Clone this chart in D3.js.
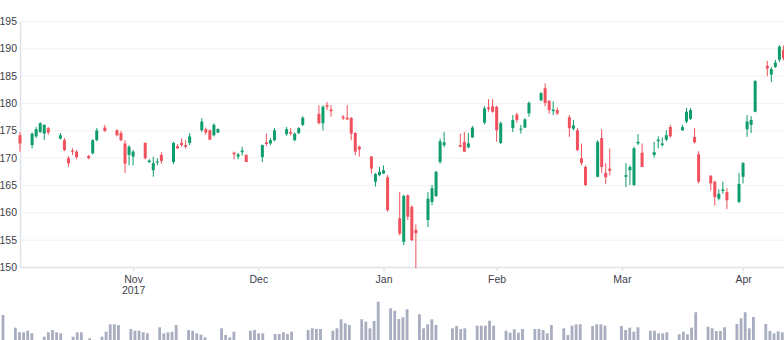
<!DOCTYPE html>
<meta charset="utf-8">

<style>

* {
	margin: 0;
	padding: 0;
}

body {
	background: #fff;
}

svg {
	display: block;
	font-family: "Liberation Sans", Arial, sans-serif;
}

.grid line {
	stroke: #f1f2f4;
}

.axis path,
.axis line {
	stroke: #dfe2e8;
	stroke-width: 1.5;
}

.axis text {
	fill: #3d404b;
	font-size: 10.5px;
}

.up {
	fill: #0f9d6b;
	stroke: #0f9d6b;
}

.down {
	fill: #f0515c;
	stroke: #f0515c;
}

.vol {
	fill: #a8adbf;
}

</style>

<body>

<script src="https://cdn.jsdelivr.net/npm/d3@7/dist/d3.min.js"></script>

<script>

// one row per trading day
var dates = [
	"2017-10-06",
	"2017-10-09", "2017-10-10", "2017-10-11", "2017-10-12", "2017-10-13",
	"2017-10-16", "2017-10-17", "2017-10-18", "2017-10-19", "2017-10-20",
	"2017-10-23", "2017-10-24", "2017-10-25", "2017-10-27",
	"2017-10-30", "2017-10-31", "2017-11-01", "2017-11-02", "2017-11-03",
	"2017-11-06", "2017-11-07", "2017-11-08", "2017-11-09", "2017-11-10",
	"2017-11-13", "2017-11-14", "2017-11-15", "2017-11-16", "2017-11-17",
	"2017-11-20", "2017-11-21", "2017-11-22", "2017-11-23", "2017-11-24",
	"2017-11-28", "2017-11-29", "2017-11-30", "2017-12-01",
	"2017-12-05", "2017-12-06", "2017-12-07", "2017-12-08",
	"2017-12-11", "2017-12-12", "2017-12-13", "2017-12-14", "2017-12-15",
	"2017-12-19", "2017-12-20", "2017-12-21", "2017-12-22",
	"2017-12-25", "2017-12-26", "2017-12-27", "2017-12-28", "2017-12-29",
	"2018-01-01", "2018-01-02", "2018-01-03", "2018-01-04", "2018-01-05",
	"2018-01-08", "2018-01-09", "2018-01-10", "2018-01-11", "2018-01-12",
	"2018-01-15", "2018-01-16", "2018-01-17", "2018-01-18", "2018-01-19",
	"2018-01-23", "2018-01-24", "2018-01-25", "2018-01-26",
	"2018-01-29", "2018-01-30", "2018-01-31", "2018-02-01", "2018-02-02",
	"2018-02-05", "2018-02-06", "2018-02-07", "2018-02-08", "2018-02-09",
	"2018-02-12", "2018-02-13", "2018-02-14", "2018-02-15", "2018-02-16",
	"2018-02-19", "2018-02-20", "2018-02-21", "2018-02-22", "2018-02-23",
	"2018-02-26", "2018-02-27", "2018-02-28", "2018-03-01",
	"2018-03-05", "2018-03-06", "2018-03-07", "2018-03-08", "2018-03-09",
	"2018-03-12", "2018-03-13", "2018-03-14", "2018-03-15", "2018-03-16",
	"2018-03-19", "2018-03-20", "2018-03-21", "2018-03-22", "2018-03-23",
	"2018-03-26", "2018-03-27", "2018-03-28", "2018-03-29", "2018-03-30",
	"2018-04-02", "2018-04-03", "2018-04-04", "2018-04-05", "2018-04-06",
	"2018-04-09", "2018-04-10", "2018-04-11", "2018-04-12", "2018-04-13"
];

var opens = [
	174.1,
	172.3, 173.9, 174.7, 174.4, 175.4,
	173.5, 173.2, 169.9, 171.3, 171.1,
	170.3, 170.8, 173.2, 175.5,
	175.0, 174.5, 172.6, 170.5, 170.2,
	172.7, 169.2, 167.7, 169.1, 170.5,
	169.2, 172.1, 172.7, 172.3, 172.7,
	175.0, 175.2, 175.0, 174.1, 174.6,
	170.9, 170.2, 171.0, 170.5,
	170.1, 172.8, 172.6, 173.2,
	174.3, 174.7, 173.2, 174.5, 176.0,
	178.0, 176.3, 179.6, 178.8,
	177.5, 177.3, 177.3, 174.5, 172.0,
	170.2, 165.6, 166.8, 167.1, 166.4,
	158.9, 154.6, 163.1, 161.0, 156.8,
	158.6, 161.9, 163.0, 169.2, 172.3,
	172.3, 172.9, 171.9, 173.7,
	176.4, 179.2, 179.4, 179.3, 172.7,
	175.4, 177.9, 175.1, 175.5, 178.1,
	180.5, 182.7, 180.4, 178.5, 178.7,
	177.4, 175.3, 175.0, 169.9, 168.3,
	166.5, 173.6, 167.2, 168.0,
	166.5, 167.7, 165.0, 172.6, 170.9,
	170.5, 173.0, 172.3, 173.3, 175.6,
	175.0, 176.6, 177.1, 173.8, 170.6,
	166.7, 165.6, 162.5, 163.9, 163.7,
	161.9, 166.5, 175.2, 176.0, 178.4,
	186.8, 185.2, 186.6, 187.9, 189.7
];

var highs = [
	174.7,
	174.6, 175.6, 176.5, 176.1, 175.6,
	174.5, 173.6, 170.3, 171.7, 171.4,
	170.5, 173.4, 175.4, 176.0,
	175.2, 174.9, 173.2, 172.3, 171.4,
	172.8, 169.7, 170.2, 169.9, 171.0,
	172.9, 172.5, 173.5, 173.2, 174.5,
	177.2, 175.5, 175.2, 176.3, 175.4,
	171.1, 170.8, 172.0, 170.6,
	172.4, 174.4, 173.6, 175.4,
	175.6, 175.4, 174.6, 175.6, 177.6,
	179.6, 179.6, 180.2, 179.6,
	177.8, 179.6, 177.4, 174.7, 172.2,
	170.3, 167.2, 168.3, 168.6, 166.8,
	163.7, 163.2, 163.3, 161.3, 157.8,
	163.7, 165.0, 167.6, 173.5, 174.7,
	174.4, 174.7, 174.5, 175.8,
	179.4, 180.7, 180.7, 179.5, 176.6,
	177.8, 178.2, 176.0, 177.2, 180.3,
	182.0, 183.6, 180.5, 180.3, 179.2,
	177.8, 176.9, 175.4, 172.6, 168.6,
	173.2, 175.2, 169.0, 171.7,
	169.0, 168.6, 172.0, 174.3, 172.6,
	172.9, 173.9, 173.7, 175.0, 176.0,
	176.0, 179.1, 179.1, 175.4, 171.2,
	166.8, 165.8, 164.2, 165.6, 164.4,
	167.2, 169.2, 177.8, 177.6, 184.2,
	187.7, 186.6, 187.9, 190.6, 190.5
];

var lows = [
	171.1,
	171.7, 173.6, 174.5, 173.2, 174.2,
	173.3, 171.2, 168.3, 170.5, 169.7,
	169.7, 170.6, 173.0, 174.7,
	173.9, 173.0, 167.2, 168.6, 168.6,
	169.7, 169.0, 166.5, 168.6, 168.9,
	168.8, 171.6, 172.0, 171.7, 172.3,
	174.7, 174.2, 173.2, 173.9, 174.5,
	169.7, 169.7, 170.4, 169.2,
	169.2, 172.1, 172.3, 173.0,
	174.0, 174.1, 173.0, 174.3, 175.8,
	176.1, 175.0, 178.7, 177.5,
	176.9, 176.9, 173.2, 170.5, 170.2,
	167.1, 164.7, 166.6, 167.0, 160.1,
	155.8, 154.0, 158.6, 154.7, 149.8,
	157.3, 161.3, 162.8, 168.9, 171.9,
	171.9, 171.0, 171.7, 173.6,
	176.1, 178.4, 178.2, 172.9, 172.5,
	174.7, 176.4, 174.4, 175.4, 177.5,
	180.3, 179.4, 178.0, 177.8, 177.8,
	173.8, 175.0, 171.2, 168.6, 164.8,
	166.4, 167.2, 165.2, 166.8,
	164.6, 165.0, 164.8, 172.3, 168.3,
	170.0, 171.7, 172.0, 173.0, 173.7,
	174.9, 176.3, 176.9, 172.6, 165.3,
	164.0, 161.2, 162.2, 163.4, 160.6,
	161.7, 165.3, 173.8, 174.5, 178.3,
	184.9, 183.8, 186.4, 187.5, 187.8
];

var closes = [
	172.6,
	174.4, 175.2, 176.3, 176.0, 174.6,
	174.1, 171.4, 169.0, 171.1, 170.1,
	169.9, 173.2, 175.0, 174.9,
	174.1, 173.2, 168.9, 172.0, 171.1,
	169.9, 169.5, 169.0, 169.3, 169.4,
	172.7, 171.7, 172.3, 172.0, 173.9,
	176.6, 174.6, 173.3, 176.0, 175.2,
	170.6, 170.6, 171.3, 169.2,
	172.3, 172.5, 173.2, 175.0,
	175.2, 174.4, 174.4, 175.4, 177.3,
	176.3, 179.3, 179.3, 178.5,
	177.2, 177.0, 174.4, 171.1, 171.5,
	168.0, 167.0, 167.4, 167.7, 160.4,
	156.1, 163.0, 159.2, 154.9, 156.2,
	162.5, 164.4, 167.4, 173.0, 172.8,
	172.0, 171.1, 172.6, 175.5,
	179.0, 178.9, 178.4, 175.0, 176.3,
	176.9, 176.9, 175.3, 177.0, 180.0,
	181.8, 180.0, 178.7, 178.8, 178.1,
	175.4, 175.9, 171.4, 169.0, 165.0,
	172.9, 168.3, 166.4, 167.6,
	166.8, 168.3, 171.7, 172.9, 168.3,
	171.0, 173.3, 172.6, 174.1, 173.9,
	175.6, 178.4, 178.7, 172.8, 165.6,
	165.3, 162.8, 163.4, 164.2, 162.2,
	165.2, 169.0, 176.6, 176.9, 184.0,
	186.3, 186.2, 187.4, 190.3, 188.2
];

// millions of shares
var volumes = [
	25.0,
	12.3, 7.7, 7.7, 9.3, 6.7,
	3.3, 7.7, 10.0, 7.7, 6.7,
	3.3, 7.7, 7.7, 1.7,
	3.3, 8.3, 15.7, 15.7, 15.0,
	11.0, 9.3, 9.3, 7.7, 6.7,
	12.7, 6.7, 7.7, 8.3, 15.0,
	10.0, 9.3, 6.7, 5.3, 2.7,
	11.7, 5.0, 2.7, 8.3,
	9.3, 10.0, 6.7, 6.7,
	6.0, 6.0, 7.7, 6.0, 8.3,
	10.0, 11.7, 11.0, 11.0,
	9.3, 11.7, 20.7, 16.7, 15.0,
	20.7, 18.3, 11.7, 19.0, 38.3,
	31.7, 29.3, 21.0, 22.7, 30.7,
	25.7, 11.7, 15.7, 20.7, 15.0,
	11.7, 14.0, 11.0, 11.7,
	14.3, 14.3, 14.3, 19.3, 14.3,
	9.3, 7.3, 10.7, 7.3, 11.0,
	11.0, 11.0, 10.0, 6.7, 15.0,
	11.7, 5.0, 14.3, 15.7, 15.7,
	14.0, 15.7, 15.7, 14.3,
	14.0, 10.0, 12.3, 8.3, 12.7,
	9.3, 9.3, 6.7, 6.7, 7.7,
	5.7, 8.3, 5.7, 12.3, 27.7,
	13.3, 11.7, 9.0, 9.0, 12.7,
	16.0, 21.7, 27.7, 11.7, 23.0,
	16.0, 9.0, 6.7, 8.7, 7.7
];

var priceTicks = [150, 155, 160, 165, 170, 175, 180, 185, 190, 195];

var tickDates = ["2017-11-03", "2017-12-04", "2018-01-04", "2018-02-01", "2018-03-04", "2018-04-03"];
var tickLabels = ["Nov\n2017", "Dec", "Jan", "Feb", "Mar", "Apr"];

var width = 784,
    height = 340,
    plotLeft = 20,
    plotRight = 840,
    volLeft = 3,
    priceTop = 21,
    priceBottom = 267,
    volBase = 340,
    bodyWidth = 3,
    volWidth = 2.8;

var parseDate = d3.timeParse("%Y-%m-%d");

var data = dates.map(function(d, i) {
	return {
		date: parseDate(d),
		open: opens[i],
		high: highs[i],
		low: lows[i],
		close: closes[i],
		volume: volumes[i]
	};
});

var domain = [parseDate("2017-10-06"), parseDate("2018-04-27")];

var x = d3.scaleTime().domain(domain).range([plotLeft, plotRight]);
var xVol = d3.scaleTime().domain(domain).range([volLeft, plotRight]);

var y = d3.scaleLinear()
    .domain([150, 195])
    .range([priceBottom, priceTop]);

var yVol = d3.scaleLinear()
    .domain([0, 40])
    .range([volBase, volBase - 40]);

var svg = d3.select("body").append("svg")
    .attr("width", width)
    .attr("height", height);

// horizontal grid
svg.append("g")
    .attr("class", "grid")
  .selectAll("line")
    .data(priceTicks.slice(1))
  .enter().append("line")
    .attr("x1", plotLeft)
    .attr("x2", plotRight)
    .attr("y1", function(d) { return y(d) + 0.5; })
    .attr("y2", function(d) { return y(d) + 0.5; });

// volume bars
svg.append("g")
  .selectAll("rect")
    .data(data)
  .enter().append("rect")
    .attr("class", "vol")
    .attr("x", function(d) { return xVol(d.date) - volWidth / 2; })
    .attr("width", volWidth)
    .attr("y", function(d) { return yVol(d.volume); })
    .attr("height", function(d) { return volBase - yVol(d.volume); });

// axes
var yAxis = d3.axisLeft(y)
    .tickValues(priceTicks)
    .tickSize(0)
    .tickPadding(3);

svg.append("g")
    .attr("class", "axis")
    .attr("transform", "translate(" + plotLeft + ",0)")
    .call(yAxis);

var xAxis = d3.axisBottom(x)
    .tickValues(tickDates.map(parseDate))
    .tickSize(4)
    .tickSizeOuter(0)
    .tickPadding(5)
    .tickFormat(function(d, i) { return tickLabels[i]; });

var gx = svg.append("g")
    .attr("class", "axis")
    .attr("transform", "translate(0," + priceBottom + ")")
    .call(xAxis);

// split "Nov\n2017" onto two lines
gx.selectAll(".tick text").each(function(d, i) {
	var t = d3.select(this);
	var lines = tickLabels[i].split("\n");
	t.text(null);
	lines.forEach(function(line, j) {
		t.append("tspan")
		    .attr("x", 0)
		    .attr("dy", j == 0 ? "0.71em" : "1.05em")
		    .text(line);
	});
});

// candles
var candle = svg.append("g")
  .selectAll("g")
    .data(data)
  .enter().append("g")
    .attr("class", function(d) { return d.close >= d.open ? "up" : "down"; });

candle.append("line")
    .attr("x1", function(d) { return x(d.date); })
    .attr("x2", function(d) { return x(d.date); })
    .attr("y1", function(d) { return y(d.high); })
    .attr("y2", function(d) { return y(d.low); })
    .attr("stroke-width", 1);

candle.append("rect")
    .attr("stroke", "none")
    .attr("x", function(d) { return x(d.date) - bodyWidth / 2; })
    .attr("width", bodyWidth)
    .attr("y", function(d) { return y(Math.max(d.open, d.close)); })
    .attr("height", function(d) {
    	return Math.max(1, Math.abs(y(d.open) - y(d.close)));
    });

</script>
